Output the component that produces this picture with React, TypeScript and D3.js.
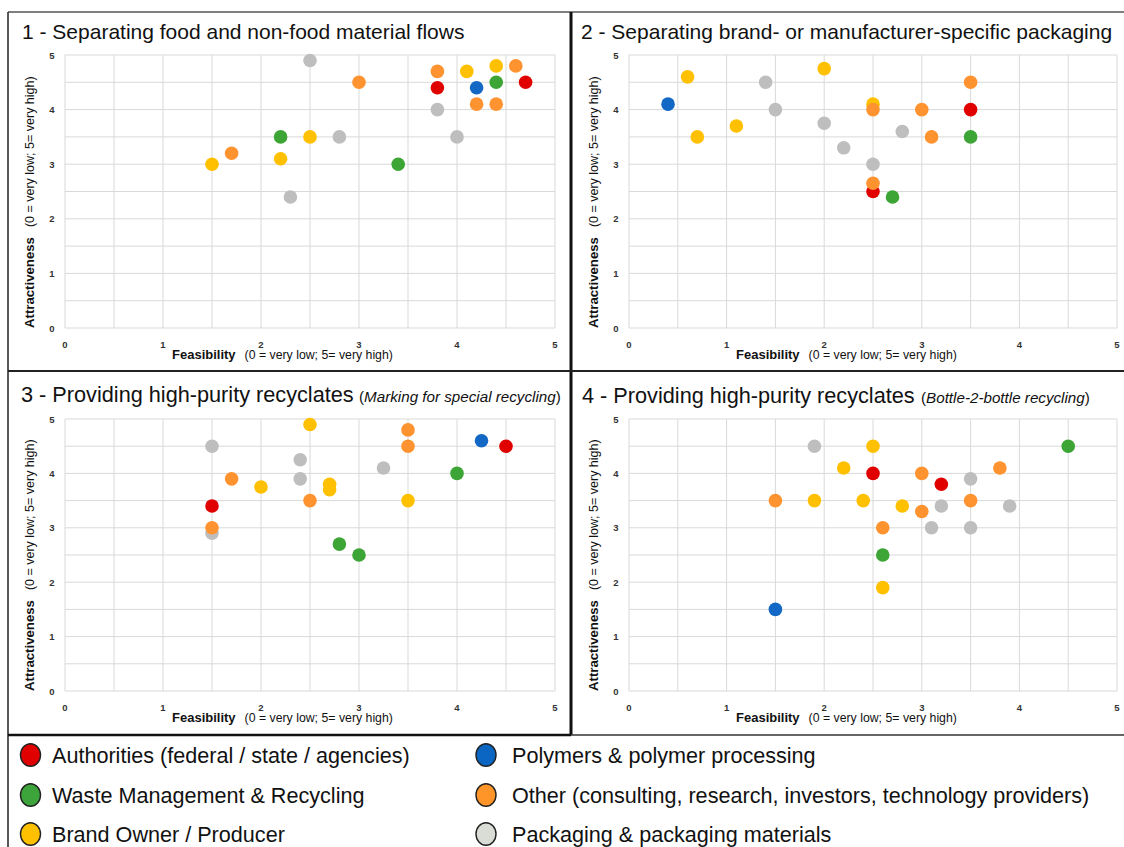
import React from "react";
import * as d3 from "d3";

// ---------- data ----------
const groupKeys = ["authorities", "waste", "brand", "polymers", "other", "packaging"];
const groupLabels = [
  "Authorities (federal / state / agencies)",
  "Waste Management & Recycling",
  "Brand Owner / Producer",
  "Polymers & polymer processing",
  "Other (consulting, research, investors, technology providers)",
  "Packaging & packaging materials",
];
const groupColors = ["#E00000", "#3DA535", "#FFC000", "#1268C4", "#FF9330", "#BEBEBE"];
const legendColors = ["#E00000", "#3CA43A", "#FFC000", "#0A66C2", "#FF9428", "#DADDD6"];
const drawOrder = ["packaging", "authorities", "waste", "brand", "polymers", "other"];

const axisTicks = [0, 1, 2, 3, 4, 5];
const gridSteps = [0, 0.5, 1, 1.5, 2, 2.5, 3, 3.5, 4, 4.5, 5];

const panelTitles = [
  "1 - Separating food and non-food material flows",
  "2 - Separating brand- or manufacturer-specific packaging",
  "3 - Providing high-purity recyclates",
  "4 - Providing high-purity recyclates",
];
const panelSubtitles = ["", "", "Marking for special recycling", "Bottle-2-bottle recycling"];

// [group, feasibility, attractiveness]
const panel1Points: [string, number, number][] = [
  ["packaging", 2.5, 4.9], ["packaging", 3.8, 4.0], ["packaging", 4.0, 3.5], ["packaging", 2.8, 3.5], ["packaging", 2.3, 2.4],
  ["authorities", 3.8, 4.4], ["authorities", 4.7, 4.5],
  ["waste", 4.4, 4.5], ["waste", 3.4, 3.0], ["waste", 2.2, 3.5],
  ["brand", 4.1, 4.7], ["brand", 4.4, 4.8], ["brand", 2.5, 3.5], ["brand", 2.2, 3.1], ["brand", 1.5, 3.0],
  ["polymers", 4.2, 4.4],
  ["other", 3.0, 4.5], ["other", 3.8, 4.7], ["other", 4.2, 4.1], ["other", 4.4, 4.1], ["other", 4.6, 4.8], ["other", 1.7, 3.2],
];
const panel2Points: [string, number, number][] = [
  ["packaging", 1.4, 4.5], ["packaging", 1.5, 4.0], ["packaging", 2.0, 3.75], ["packaging", 2.2, 3.3], ["packaging", 2.5, 3.0], ["packaging", 2.8, 3.6],
  ["authorities", 2.5, 2.5], ["authorities", 3.5, 4.0],
  ["waste", 2.7, 2.4], ["waste", 3.5, 3.5],
  ["brand", 0.6, 4.6], ["brand", 0.7, 3.5], ["brand", 1.1, 3.7], ["brand", 2.0, 4.75], ["brand", 2.5, 4.1],
  ["polymers", 0.4, 4.1],
  ["other", 2.5, 4.0], ["other", 2.5, 2.65], ["other", 3.0, 4.0], ["other", 3.1, 3.5], ["other", 3.5, 4.5],
];
const panel3Points: [string, number, number][] = [
  ["packaging", 1.5, 4.5], ["packaging", 1.5, 2.9], ["packaging", 2.4, 4.25], ["packaging", 2.4, 3.9], ["packaging", 3.25, 4.1],
  ["authorities", 1.5, 3.4], ["authorities", 4.5, 4.5],
  ["waste", 2.8, 2.7], ["waste", 3.0, 2.5], ["waste", 4.0, 4.0],
  ["brand", 2.0, 3.75], ["brand", 2.5, 4.9], ["brand", 2.7, 3.8], ["brand", 2.7, 3.7], ["brand", 3.5, 3.5],
  ["polymers", 4.25, 4.6],
  ["other", 1.5, 3.0], ["other", 1.7, 3.9], ["other", 2.5, 3.5], ["other", 3.5, 4.8], ["other", 3.5, 4.5],
];
const panel4Points: [string, number, number][] = [
  ["packaging", 1.9, 4.5], ["packaging", 3.1, 3.0], ["packaging", 3.2, 3.4], ["packaging", 3.5, 3.9], ["packaging", 3.5, 3.0], ["packaging", 3.9, 3.4],
  ["authorities", 2.5, 4.0], ["authorities", 3.2, 3.8],
  ["waste", 2.6, 2.5], ["waste", 4.5, 4.5],
  ["brand", 1.9, 3.5], ["brand", 2.2, 4.1], ["brand", 2.4, 3.5], ["brand", 2.5, 4.5], ["brand", 2.6, 1.9], ["brand", 2.8, 3.4],
  ["polymers", 1.5, 1.5],
  ["other", 1.5, 3.5], ["other", 2.6, 3.0], ["other", 3.0, 4.0], ["other", 3.0, 3.3], ["other", 3.5, 3.5], ["other", 3.8, 4.1],
];
const panelPoints = [panel1Points, panel2Points, panel3Points, panel4Points];

// ---------- layout ----------
const W = 1124;
const H = 847;
const FONT = "'Liberation Sans', Arial, sans-serif";
const panelLayout = [
  { left: 65, right: 555, top: 55, bottom: 328, titleX: 22, titleY: 39, titleSize: 21, subX: 0 },
  { left: 629, right: 1117, top: 55, bottom: 328, titleX: 581, titleY: 39, titleSize: 21, subX: 0 },
  { left: 65, right: 555, top: 419, bottom: 691, titleX: 21, titleY: 402, titleSize: 21.7, subX: 359 },
  { left: 629, right: 1117, top: 419, bottom: 691, titleX: 582, titleY: 403, titleSize: 21.7, subX: 921 },
];

const colorOf = (g: string) => groupColors[groupKeys.indexOf(g)];

function Panel({ idx }: { idx: number }) {
  const L = panelLayout[idx];
  const x = d3.scaleLinear().domain([0, 5]).range([L.left, L.right]);
  const y = d3.scaleLinear().domain([0, 5]).range([L.bottom, L.top]);
  const pts = panelPoints[idx]
    .map((p, i) => ({ p, i }))
    .sort((a, b) => drawOrder.indexOf(a.p[0]) - drawOrder.indexOf(b.p[0]) || a.i - b.i);
  return (
    <g>
      {gridSteps.map((v) => (
        <line key={"gx" + v} x1={x(v)} x2={x(v)} y1={y(0)} y2={y(5)} stroke="#D9D9D9" strokeWidth={1} />
      ))}
      {gridSteps.map((v) => (
        <line key={"gy" + v} x1={x(0)} x2={x(5)} y1={y(v)} y2={y(v)} stroke="#D9D9D9" strokeWidth={1} />
      ))}
      {axisTicks.map((v) => (
        <text key={"tx" + v} x={x(v)} y={L.bottom + 20} fontSize={9.5} fontWeight="bold" fill="#333" textAnchor="middle" fontFamily={FONT}>
          {v}
        </text>
      ))}
      {axisTicks.map((v) => (
        <text key={"ty" + v} x={L.left - 13} y={y(v) + 3.5} fontSize={9.5} fontWeight="bold" fill="#333" textAnchor="middle" fontFamily={FONT}>
          {v}
        </text>
      ))}
      {/* x axis title */}
      <text x={L.left + 107} y={L.bottom + 31} fontFamily={FONT} fill="#111">
        <tspan fontWeight="bold" fontSize={13}>Feasibility</tspan>
        <tspan fontSize={12.3} dx={9}>(0 = very low; 5= very high)</tspan>
      </text>
      {/* y axis title */}
      <text transform={`translate(${L.left - 31},${L.bottom}) rotate(-90)`} fontFamily={FONT} fill="#111">
        <tspan fontWeight="bold" fontSize={13.2}>Attractiveness</tspan>
        <tspan fontSize={12.5} dx={10}>(0 = very low; 5= very high)</tspan>
      </text>
      {/* title */}
      <text x={L.titleX} y={L.titleY} fontSize={L.titleSize} fontFamily={FONT} fill="#111">
        {panelTitles[idx]}
      </text>
      {panelSubtitles[idx] && (
        <text x={L.subX} y={L.titleY} fontSize={15.2} fontFamily={FONT} fill="#111">
          (<tspan fontStyle="italic">{panelSubtitles[idx]}</tspan>)
        </text>
      )}
      {pts.map(({ p, i }) => (
        <circle key={"pt" + i} cx={x(p[1])} cy={y(p[2])} r={6.8} fill={colorOf(p[0])} />
      ))}
    </g>
  );
}

function Legend() {
  const rowsY = [755, 795, 834];
  const colX = [30.5, 486];
  const textX = [52, 512];
  return (
    <g>
      {groupLabels.map((lab, i) => {
        const col = i < 3 ? 0 : 1;
        const row = i % 3;
        return (
          <g key={lab}>
            <ellipse cx={colX[col]} cy={rowsY[row]} rx={10} ry={11.3} fill={legendColors[i]} stroke="#222" strokeWidth={1.4} />
            <text x={textX[col]} y={rowsY[row] + 7.5} fontSize={21.6} fontFamily={FONT} fill="#111">
              {lab}
            </text>
          </g>
        );
      })}
    </g>
  );
}

export default function App() {
  return (
    <svg width={W} height={H} style={{ position: "absolute", left: 0, top: 0, background: "#fff" }}>
      <rect x={0} y={0} width={W} height={H} fill="#fff" />
      {[0, 1, 2, 3].map((i) => (
        <Panel key={i} idx={i} />
      ))}
      {/* frames */}
      <line x1={8} x2={W} y1={12} y2={12} stroke="#555" strokeWidth={1.5} />
      <line x1={8} x2={8} y1={12} y2={H} stroke="#222" strokeWidth={1.5} />
      <line x1={571} x2={571} y1={12} y2={735} stroke="#111" strokeWidth={3} />
      <line x1={8} x2={W} y1={371} y2={371} stroke="#222" strokeWidth={2} />
      <line x1={8} x2={571} y1={735} y2={735} stroke="#111" strokeWidth={2.5} />
      <line x1={571} x2={W} y1={735} y2={735} stroke="#333" strokeWidth={1.5} />
      <Legend />
    </svg>
  );
}
